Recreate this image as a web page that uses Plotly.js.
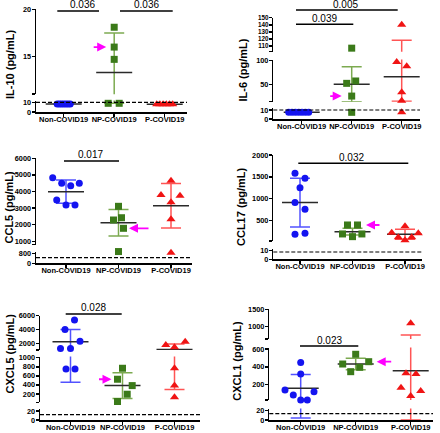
<!DOCTYPE html>
<html><head><meta charset="utf-8">
<script src="https://cdn.plot.ly/plotly-3.0.1.min.js"></script>
<style>html,body{margin:0;padding:0;background:#fff}#chart{width:440px;height:433px}</style>
</head><body><div id="chart"></div>
<script>
const categories = ['Non-COVID19','NP-COVID19','P-COVID19'];

// IL-10 (pg/mL)
const il10Non = [8.2,8.2,8.2,8.2,8.2,8.2,8.2];
const il10NP  = [18.1,16,14.7,9,9];
const il10P   = [7.9,7.9,7.9,7.9,7.9,7.9];
const il10Mean = [8.2,13.3,7.9];
const il10SD   = [0.2,4.2,0.2];
const il10P_values = ['0.036','0.036'];

// IL-6 (pg/mL)
const il6Non = [7.4,7.4,7.4,7.4,7.4,7.4,7.4];
const il6NP  = [107,57,52,25,7.4];
const il6P   = [140,97,88,33,15,7.4];
const il6Mean = [7.4,50,66];
const il6SD   = [0.3,37,52];
const il6P_values = ['0.039','0.005'];

// CCL5 (pg/mL)
const ccl5Non = [4831,4494,4349,4494,3488,3187,3187];
const ccl5NP  = [3108,2420,2283,1783,940];
const ccl5P   = [4650,3790,3740,3350,2325,835];
const ccl5Mean = [3988,2120,3145];
const ccl5SD   = [700,800,1340];
const ccl5P_values = ['0.017'];

// CCL17 (pg/mL)
const ccl17Non = [1580,1466,1250,906,754,181,204];
const ccl17NP  = [392,392,186,186,124];
const ccl17P   = [365,216,202,110,110,40];
const ccl17Mean = [906,239,179];
const ccl17SD   = [560,78,115];
const ccl17P_values = ['0.032'];

// CXCL5 (pg/mL)
const cxcl5Non = [5377,4000,2300,1240,1240,751,751];
const cxcl5NP  = [767,525,385,195,35];
const cxcl5P   = [2230,1750,1420,767,385,130];
const cxcl5Mean = [2230,385,1100];
const cxcl5SD   = [1770,285,800];
const cxcl5P_values = ['0.028'];

// CXCL1 (pg/mL)
const cxcl1Non = [448,321,140,84,30,30,121];
const cxcl1NP  = [541,458,432,395,346];
const cxcl1P   = [1098,328,320,166,129,73];
const cxcl1Mean = [159,432,357];
const cxcl1SD   = [155,65,404];
const cxcl1P_values = ['0.023'];

// detection limits (dashed lines)
const lods = [10,10,450,8.5,12,13];

// ---------- layout geometry (pixels) ----------
const W=440,H=433;
const X = px => px/W, Y = py => 1-py/H;

const panels = [
 {title:'IL-10 (pg/mL)', groups:[il10Non,il10NP,il10P], mean:il10Mean, sd:il10SD, lod:lods[0],
  jit:[[-6.5,-4.3,-2.2,0,2.2,4.3,6.5],[0,0,0,-6,5],[-8,-4.8,-1.6,1.6,4.8,8]],
  xl:36,xr:187,c0:63.7,sp:50.5, tx:10,ty:65,
  segs:[{py:[100.5,112],range:[0,11.9],ticks:[0,10],labels:['0','10']},
        {py:[9.3,94.3],range:[11,20],ticks:[11.02,15,20],labels:['','15','20']}],
  sig:[{x0:57.3,x1:99,y:11,tx:82.5,ty:5,t:il10P_values[0]},{x0:120,x1:172.7,y:11,tx:146.8,ty:5,t:il10P_values[1]}],
  arrow:{g:1,i:1,side:-1,gap:8,len:14}},
 {title:'IL-6 (pg/mL)', groups:[il6Non,il6NP,il6P], mean:il6Mean, sd:il6SD, lod:lods[1],
  jit:[[-13,-9.7,-6.3,-3,0.3,3.7,7],[0,4,-5,0,0],[0,-5,5,0,0,0]],
  xl:273.3,xr:420,c0:301.7,sp:50, tx:242.5,ty:70,
  segs:[{py:[108,119],range:[0,12.2],ticks:[0,10],labels:['0','10']},
        {py:[59.5,101.7],range:[13.1,102.5],ticks:[13.15,50,100],labels:['','50','100']},
        {py:[17.7,51.7],range:[102,150],ticks:[102.05,110,120,130,140,150],labels:['','110','120','130','140','150'],fs:6.3}],
  sig:[{x0:296,x1:353.3,y:24.3,tx:324.7,ty:18.8,t:il6P_values[0]},{x0:296,x1:397.7,y:10,tx:345,ty:4.7,t:il6P_values[1]}],
  arrow:{g:1,i:3,side:-1,gap:10,len:13}},
 {title:'CCL5 (pg/mL)', groups:[ccl5Non,ccl5NP,ccl5P], mean:ccl5Mean, sd:ccl5SD, lod:lods[2],
  jit:[[-13.3,-4.3,4.7,13.3,-9.3,0,9],[0,3,-5,5,0],[0,-10,9,0,0,0]],
  xl:36,xr:192,c0:66,sp:52.5, tx:8.5,ty:208,
  segs:[{py:[251.5,263.3],range:[0,944],ticks:[0,800],labels:['0','800']},
        {py:[158.3,244.7],range:[795,6000],ticks:[797,1000,2000,3000,4000,5000,6000],labels:['','1000','2000','3000','4000','5000','6000']}],
  sig:[{x0:64,x1:119,y:161,tx:90.3,ty:155,t:ccl5P_values[0]}],
  arrow:{g:1,i:3,side:1,gap:5.5,len:21}},
 {title:'CCL17 (pg/mL)', groups:[ccl17Non,ccl17NP,ccl17P], mean:ccl17Mean, sd:ccl17SD, lod:lods[3],
  jit:[[-5,5,0,-5,5,-5,5],[-5,5,-10,9.4,0],[0,-13.3,13.3,-6.7,6.7,0]],
  xl:273.3,xr:421.7,c0:300,sp:52.5, tx:240.3,ty:206.7,
  segs:[{py:[248.5,259.3],range:[0,12.6],ticks:[0,10],labels:['0','10']},
        {py:[155,241],range:[24,2000],ticks:[25,500,1000,1500,2000],labels:['','500','1000','1500','2000']}],
  sig:[{x0:298.3,x1:408.3,y:163.3,tx:351.5,ty:157.2,t:ccl17P_values[0]}],
  arrow:{g:1,i:1,side:1,gap:8.5,len:15}},
 {title:'CXCL5 (pg/mL)', groups:[cxcl5Non,cxcl5NP,cxcl5P], mean:cxcl5Mean, sd:cxcl5SD, lod:lods[4],
  jit:[[4,-5.5,9.5,-10,0,-4.5,4.5],[0,-5,9.7,4.7,-5],[10.7,-8.7,0,0,0,0]],
  xl:40,xr:200,c0:70.5,sp:52, tx:9.5,ty:354,
  segs:[{py:[409,420],range:[0,24.4],ticks:[0,20],labels:['0','20']},
        {py:[356.5,402.3],range:[17,1026],ticks:[17.2,200,400,600,800,1000],labels:['','200','400','600','800','1000']},
        {py:[315.7,350],range:[1029,6000],ticks:[1032,2000,4000,6000],labels:['','2000','4000','6000']}],
  sig:[{x0:65.7,x1:121.7,y:314,tx:93,ty:307.8,t:cxcl5P_values[0]}],
  arrow:{g:1,i:1,side:-1,gap:6,len:14}},
 {title:'CXCL1 (pg/mL)', groups:[cxcl1Non,cxcl1NP,cxcl1P], mean:cxcl1Mean, sd:cxcl1SD, lod:lods[5],
  jit:[[0,0,-15.7,-7.4,0,6.6,13.3],[0,13,-13,4,-5],[0,-4.7,5.3,-9.7,10,0]],
  xl:269.3,xr:433,c0:300.7,sp:55, tx:237,ty:360.8,
  segs:[{py:[408.5,420],range:[0,23.7],ticks:[0,20],labels:['0','20']},
        {py:[347.5,400],range:[28.6,617],ticks:[28.8,200,400,600],labels:['','200','400','600']},
        {py:[309.3,339],range:[647,1500],ticks:[649,1000,1500],labels:['','1000','1500']}],
  sig:[{x0:300,x1:358.3,y:346,tx:329.2,ty:340.5,t:cxcl1P_values[0]}],
  arrow:{g:1,i:1,side:1,gap:8,len:16}}
];

const MCOL=['#1414f0','#3b7a19','#f01414'];
const SDCOL=['#5252ff','#7caa50','#ff5454'];
const SYM=['circle','square','triangle-up'];
const MSIZE=[7,7,8];
const FONT='Arial, "Liberation Sans", sans-serif';
const bold = t => t ? '<b>'+t+'</b>' : '';

const traces=[], shapes=[], annotations=[];
const layout={width:W,height:H,margin:{l:0,r:0,t:0,b:0},autosize:false,showlegend:false,
  paper_bgcolor:'#fff',plot_bgcolor:'rgba(0,0,0,0)',font:{family:FONT,color:'#000'},
  shapes:shapes,annotations:annotations};

let yCount=0;
const yn = id => id===1?'y':'y'+id;
const ykey = id => id===1?'yaxis':'yaxis'+id;

panels.forEach((P,pi)=>{
  const xn = pi===0?'x':'x'+(pi+1);
  const xkey = pi===0?'xaxis':'xaxis'+(pi+1);
  const ids = P.segs.map(()=>++yCount);
  const sp=P.sp;
  const findSeg = v => {
    let best=0,bd=Infinity;
    P.segs.forEach((s,k)=>{
      const d = v<s.range[0]? s.range[0]-v : (v>s.range[1]? v-s.range[1] : 0);
      if(d<bd){bd=d;best=k;}
    });
    return best;
  };
  layout[xkey]={domain:[X(P.xl),X(P.xr)],range:[(P.xl-P.c0)/sp,(P.xr-P.c0)/sp],anchor:yn(ids[0]),
    showline:true,linewidth:1.5,linecolor:'#000',ticks:'outside',ticklen:3,tickwidth:1.5,tickcolor:'#000',
    tickvals:[0,1,2],ticktext:categories.map(bold),showgrid:false,zeroline:false,ticklabelstandoff:-4,
    tickfont:{family:FONT,size:7.5,color:'#000'},fixedrange:true};
  P.segs.forEach((s,k)=>{
    layout[ykey(ids[k])]={domain:[Y(s.py[1]),Y(s.py[0])],range:s.range,anchor:xn,
      showline:true,linewidth:1.5,linecolor:'#000',ticks:'outside',ticklen:3,tickwidth:1.5,tickcolor:'#000',
      tickmode:'array',tickvals:s.ticks,ticktext:s.labels.map(bold),showgrid:false,zeroline:false,
      ticklabelstandoff:-1,
      tickfont:{family:FONT,size:s.fs||7.3,color:'#000'},fixedrange:true};
  });
  // dashed detection-limit line
  shapes.push({type:'line',xref:xn+' domain',yref:yn(ids[0]),x0:0,x1:1,y0:P.lod,y1:P.lod,
    line:{color:'#000',width:1.2,dash:'4px,2px'}});
  // error bars (mean ± SD)
  const cw=10/sp, mw=18/sp;
  P.groups.forEach((vals,g)=>{
    const m=P.mean[g], s=P.sd[g], lo=Math.max(m-s,0), hi=m+s;
    ids.forEach(id=>{
      traces.push({type:'scatter',mode:'lines',xaxis:xn,yaxis:yn(id),
        x:[g,g,null,g-cw,g+cw,null,g-cw,g+cw],y:[lo,hi,null,hi,hi,null,lo,lo],
        line:{color:SDCOL[g],width:1.5},hoverinfo:'skip'});
      traces.push({type:'scatter',mode:'lines',xaxis:xn,yaxis:yn(id),
        x:[g-mw,g+mw],y:[m,m],line:{color:'#2a2a2a',width:1.5},hoverinfo:'skip'});
    });
  });
  // points
  P.groups.forEach((vals,g)=>{
    const buckets=P.segs.map(()=>({x:[],y:[]}));
    vals.forEach((v,i)=>{
      const k=findSeg(v);
      buckets[k].x.push(g+P.jit[g][i]/sp); buckets[k].y.push(v);
    });
    buckets.forEach((b,k)=>{
      if(!b.x.length) return;
      traces.push({type:'scatter',mode:'markers',xaxis:xn,yaxis:yn(ids[k]),x:b.x,y:b.y,cliponaxis:false,
        marker:{symbol:SYM[g],size:MSIZE[g],color:MCOL[g],line:{width:0}},hoverinfo:'skip'});
    });
  });
  // y title
  annotations.push({xref:'paper',yref:'paper',x:X(P.tx),y:Y(P.ty),text:bold(P.title),textangle:-90,
    showarrow:false,xanchor:'center',yanchor:'middle',font:{family:FONT,size:11,color:'#000'}});
  // significance bars
  P.sig.forEach(s=>{
    shapes.push({type:'line',xref:'paper',yref:'paper',x0:X(s.x0),x1:X(s.x1),y0:Y(s.y),y1:Y(s.y),
      line:{color:'#000',width:1.5}});
    annotations.push({xref:'paper',yref:'paper',x:X(s.tx),y:Y(s.ty),text:s.t,showarrow:false,
      xanchor:'center',yanchor:'middle',font:{family:FONT,size:10,color:'#000'}});
  });
  // magenta arrow
  const A=P.arrow, v=P.groups[A.g][A.i], k=findSeg(v);
  annotations.push({xref:xn,yref:yn(ids[k]),x:A.g+(P.jit[A.g][A.i]+A.side*A.gap)/sp,y:v,
    ax:A.side*A.len,ay:0,text:'',showarrow:true,arrowhead:2,arrowsize:1,arrowwidth:1.8,
    arrowcolor:'#ff00ff',standoff:0});
});

Plotly.newPlot('chart',traces,layout,{staticPlot:true,displayModeBar:false});
</script>
</body></html>
